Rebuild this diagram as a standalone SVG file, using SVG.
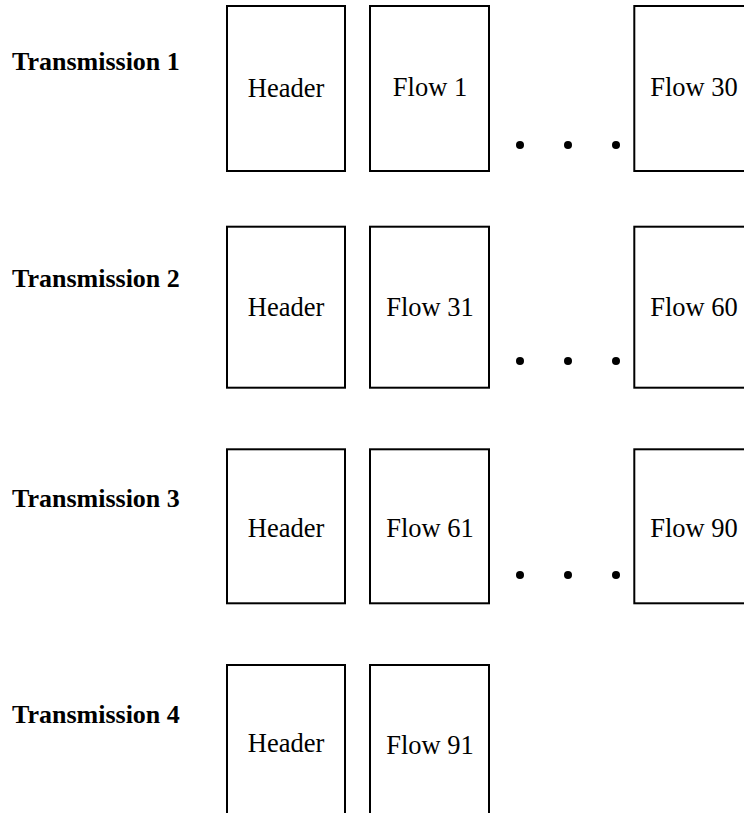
<svg xmlns="http://www.w3.org/2000/svg" width="744" height="813" viewBox="0 0 744 813">
<style>
.box{fill:#fff;stroke:#000;stroke-width:2}
.lbl{font-family:"Liberation Serif","Times New Roman",serif;font-size:26px;font-weight:bold;fill:#000}
.t{font-family:"Liberation Serif","Times New Roman",serif;font-size:26.5px;fill:#000;text-anchor:middle}
.dot{fill:#000}
</style>
<rect width="744" height="813" fill="#fff"/>
<g id="row1">
<text class="lbl" x="12" y="70">Transmission 1</text>
<g id="r1-header"><rect class="box" x="227" y="6" width="118" height="165"/><text class="t" x="286" y="96.5">Header</text></g>
<g id="r1-flow1"><rect class="box" x="370" y="6" width="119" height="165"/><text class="t" x="430" y="96">Flow 1</text></g>
<g id="r1-flow30"><rect class="box" x="634.3" y="6" width="120" height="165"/><text class="t" x="694" y="96">Flow 30</text></g>
<circle class="dot" cx="520" cy="145" r="4"/><circle class="dot" cx="568" cy="145" r="4"/><circle class="dot" cx="616" cy="145" r="4"/>
</g>
<g id="row2">
<text class="lbl" x="12" y="287">Transmission 2</text>
<g id="r2-header"><rect class="box" x="227" y="226.7" width="118" height="161"/><text class="t" x="286" y="316">Header</text></g>
<g id="r2-flow31"><rect class="box" x="370" y="226.7" width="119" height="161"/><text class="t" x="430" y="316">Flow 31</text></g>
<g id="r2-flow60"><rect class="box" x="634.3" y="226.7" width="120" height="161"/><text class="t" x="694" y="316">Flow 60</text></g>
<circle class="dot" cx="520" cy="361" r="4"/><circle class="dot" cx="568" cy="361" r="4"/><circle class="dot" cx="616" cy="361" r="4"/>
</g>
<g id="row3">
<text class="lbl" x="12" y="506.5">Transmission 3</text>
<g id="r3-header"><rect class="box" x="227" y="449.3" width="118" height="154"/><text class="t" x="286" y="537">Header</text></g>
<g id="r3-flow61"><rect class="box" x="370" y="449.3" width="119" height="154"/><text class="t" x="430" y="537">Flow 61</text></g>
<g id="r3-flow90"><rect class="box" x="634.3" y="449.3" width="120" height="154"/><text class="t" x="694" y="537">Flow 90</text></g>
<circle class="dot" cx="520" cy="575" r="4"/><circle class="dot" cx="568" cy="575" r="4"/><circle class="dot" cx="616" cy="575" r="4"/>
</g>
<g id="row4">
<text class="lbl" x="12" y="722.7">Transmission 4</text>
<g id="r4-header"><rect class="box" x="227" y="665" width="118" height="160"/><text class="t" x="286" y="751.7">Header</text></g>
<g id="r4-flow91"><rect class="box" x="370" y="665" width="119" height="160"/><text class="t" x="430" y="754">Flow 91</text></g>
</g>
<g id="connectors"></g>
</svg>
